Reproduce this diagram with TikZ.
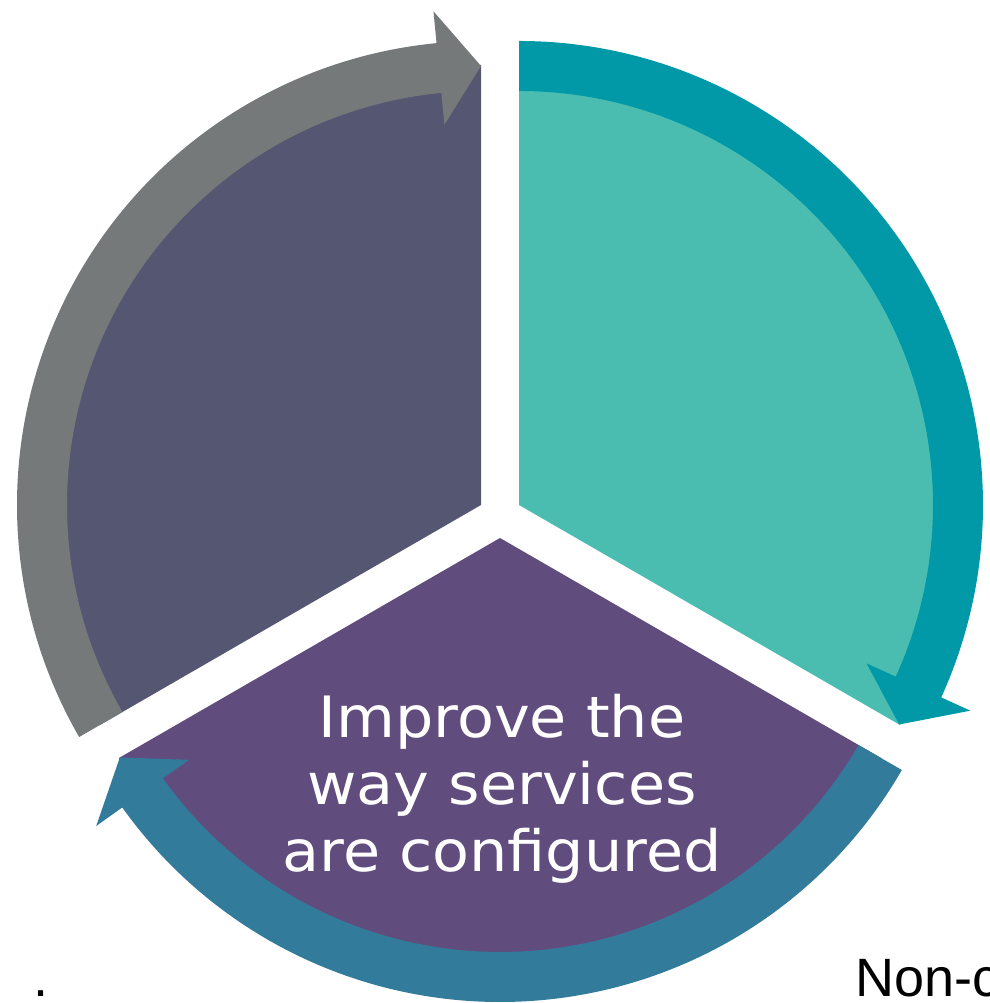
\documentclass[tikz,border=0pt]{standalone}
\usepackage{fontspec}
\newfontfamily\wheelfont[FakeStretch=1.06]{DejaVu Sans}
\newfontfamily\notefont{Liberation Sans}
\usepackage{xcolor}
\definecolor{Slate}{HTML}{555672}
\definecolor{Pewter}{HTML}{75797A}
\definecolor{Lagoon}{HTML}{4BBDB0}
\definecolor{Ocean}{HTML}{0198A8}
\definecolor{Plum}{HTML}{614C7E}
\definecolor{Harbour}{HTML}{337B9A}
\usepackage{tikz}
\usetikzlibrary{calc}
% curved band with a wide head: centre, tail angle, tip angle, colour
\newcommand{\cyclearrow}[4]{%
  \fill[#4] ($(#1)+(#2:464pt)$) arc[start angle=#2, end angle=#3+5.5, radius=464pt]
    -- ($(#1)+(#3+5.5:496pt)$) -- ($(#1)+(#3:439pt)$) -- ($(#1)+(#3+5.5:382pt)$)
    -- ($(#1)+(#3+5.5:414pt)$) arc[start angle=#3+5.5, end angle=#2, radius=414pt] -- cycle;}

\begin{document}
\begin{tikzpicture}[
  x=1pt,y=1pt,
  wheeltext/.style={text=white,align=center,font=\wheelfont\fontsize{57}{67}\selectfont},
  note/.style={text=black,font=\notefont\fontsize{54}{60}\selectfont,inner sep=0pt}
]
\useasboundingbox (0,0) rectangle (989,1003);

% exploded centres of the three slices
\coordinate (slatec) at (481,498);
\coordinate (lagoonc) at (519,498);
\coordinate (plumc) at (500,465);

\fill[Slate] (slatec) -- ++(90:440pt) arc[start angle=90, end angle=210, radius=440pt] -- cycle;
\fill[Lagoon] (lagoonc) -- ++(-30:440pt) arc[start angle=-30, end angle=90, radius=440pt] -- cycle;
\fill[Plum] (plumc) -- ++(210:440pt) arc[start angle=210, end angle=330, radius=440pt] -- cycle;

\cyclearrow{slatec}{210}{90}{Pewter}
\cyclearrow{lagoonc}{90}{-30}{Ocean}
\cyclearrow{plumc}{-30}{-150}{Harbour}

\node[wheeltext] (improve) at (502,214) {Improve the\\way services\\are configured};

\node[note,anchor=base west] (dot) at (33,6) {.};
\node[note,anchor=base west] (noncomp) at (855,6) {Non-c};
\end{tikzpicture}
\end{document}
